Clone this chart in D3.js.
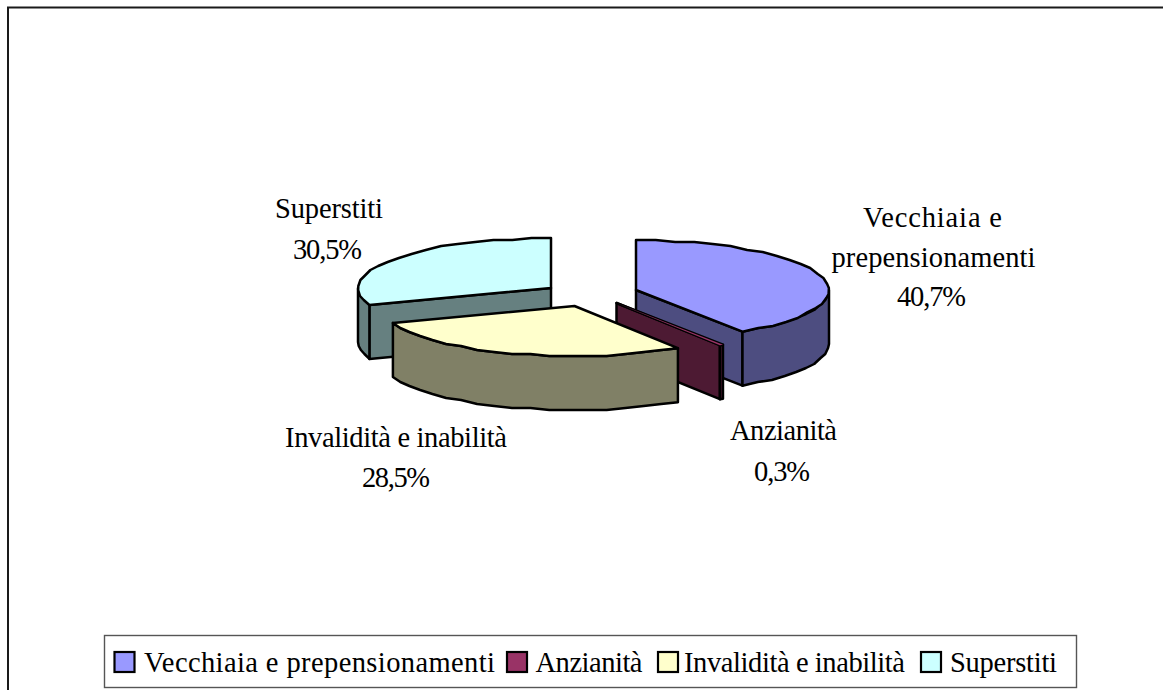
<!DOCTYPE html>
<html><head><meta charset="utf-8">
<script src="https://cdn.jsdelivr.net/npm/d3@7"></script>
<style>html,body{margin:0;padding:0;background:#fff;overflow:hidden}svg{display:block}text{font-family:"Liberation Serif",serif;fill:#000}</style>
</head><body><svg id="c" width="1163" height="690"></svg>
<script>
const categories = ["Vecchiaia e prepensionamenti","Anzianità","Invalidità e inabilità","Superstiti"];
const shares = [40.7,0.3,28.5,30.5];
const topColors = ["#9999FF","#993366","#FFFFCC","#CCFFFF"];
const sideColors = ["#4D4D80","#4D1A33","#808066","#668080"];
const labelLines = [["Vecchiaia e","prepensionamenti"],["Anzianità"],["Invalidità e inabilità"],["Superstiti"]];
const labelCenters = [[932.5,933.5,931.5],[783.5,782],[396,396],[329,327.5]];
const labelBaselines = [[227,267,306],[440,481],[447,487],[218,259]];
const labelWidths = [[139,204,69],[107,56],[222,68],[108,69]];
const apexes = [[636,290],[616.5,303],[574.5,306],[551,288]];
const legendSwatchX=[114.5,507,658,921], legendTextX=[144,535.5,684,950], legendWidths=[351,107,221,107];
const RX=193, RY=50, DEPTH=54, FS=28.5;

const svg=d3.select("#c");
const fmt=v=>d3.format(".1f")(v).replace(".",",")+"%";
svg.append("path").attr("d","M8,690V7.5H1163").attr("fill","none").attr("stroke","#1a1a1a").attr("stroke-width",2);

const arcs=d3.pie().sort(null).value(d=>d)(shares);
const px=d3.scaleLinear().domain([-1,1]).range([-RX,RX]);
const py=d3.scaleLinear().domain([-1,1]).range([RY,-RY]);
const line=d3.line();
function P(i,a,dz=0){const c=apexes[i];return [c[0]+px(Math.sin(a)),c[1]+py(Math.cos(a))+dz];}
// rim polyline sampled coarsely and snapped, as in the low-resolution source
function rim(i,a0,a1,dz=0){
  const n=Math.max(1,Math.ceil((a1-a0)/(Math.PI/30)));
  return d3.range(n+1).map(k=>{
    const p=P(i,a0+(a1-a0)*k/n,dz);
    return (k===0||k===n)?p:[p[0],Math.round(p[1]/2)*2];
  });
}
const g=svg.append("g").attr("stroke","#000").attr("stroke-width",2.5).attr("stroke-linejoin","round");
function poly(pts,fill){return g.append("path").attr("d",line(pts)+"Z").attr("fill",fill);}

[3,0,1,2].forEach(i=>{
  const a0=arcs[i].startAngle,a1=arcs[i].endAngle,c=apexes[i];
  const side=sideColors[i];
  const s=Math.max(a0,Math.PI/2), e=Math.min(a1,3*Math.PI/2);
  if(i===3){const p=P(i,a0);poly([c,p,[p[0],p[1]+DEPTH],[c[0],c[1]+DEPTH]],side);}
  if(i===0||i===1){const p=P(i,a1);poly([c,p,[p[0],p[1]+DEPTH],[c[0],c[1]+DEPTH]],side);}
  if(e>s){poly(rim(i,s,e).concat(rim(i,s,e,DEPTH).reverse()),side);}
  const top=[c].concat(rim(i,a0,a1));
  poly(top,topColors[i]);
  if(i===1){poly(top,topColors[i]).attr("stroke","none");}
});

const lab=svg.append("g").attr("font-size",FS).attr("text-anchor","middle");
categories.forEach((n,i)=>{
  labelLines[i].concat([fmt(shares[i])]).forEach((t,k)=>
    lab.append("text").attr("x",labelCenters[i][k]).attr("y",labelBaselines[i][k])
      .attr("textLength",labelWidths[i][k]).attr("lengthAdjust","spacing").text(t));
});

svg.append("rect").attr("x",104.5).attr("y",635.5).attr("width",972).attr("height",52).attr("fill","#fff").attr("stroke","#555").attr("stroke-width",1.4);
categories.forEach((n,i)=>{
  svg.append("rect").attr("x",legendSwatchX[i]).attr("y",652).attr("width",20).attr("height",20).attr("fill",topColors[i]).attr("stroke","#000").attr("stroke-width",2.2);
  svg.append("text").attr("x",legendTextX[i]).attr("y",672).attr("font-size",FS)
    .attr("textLength",legendWidths[i]).attr("lengthAdjust","spacing").text(n);
});
</script></body></html>
